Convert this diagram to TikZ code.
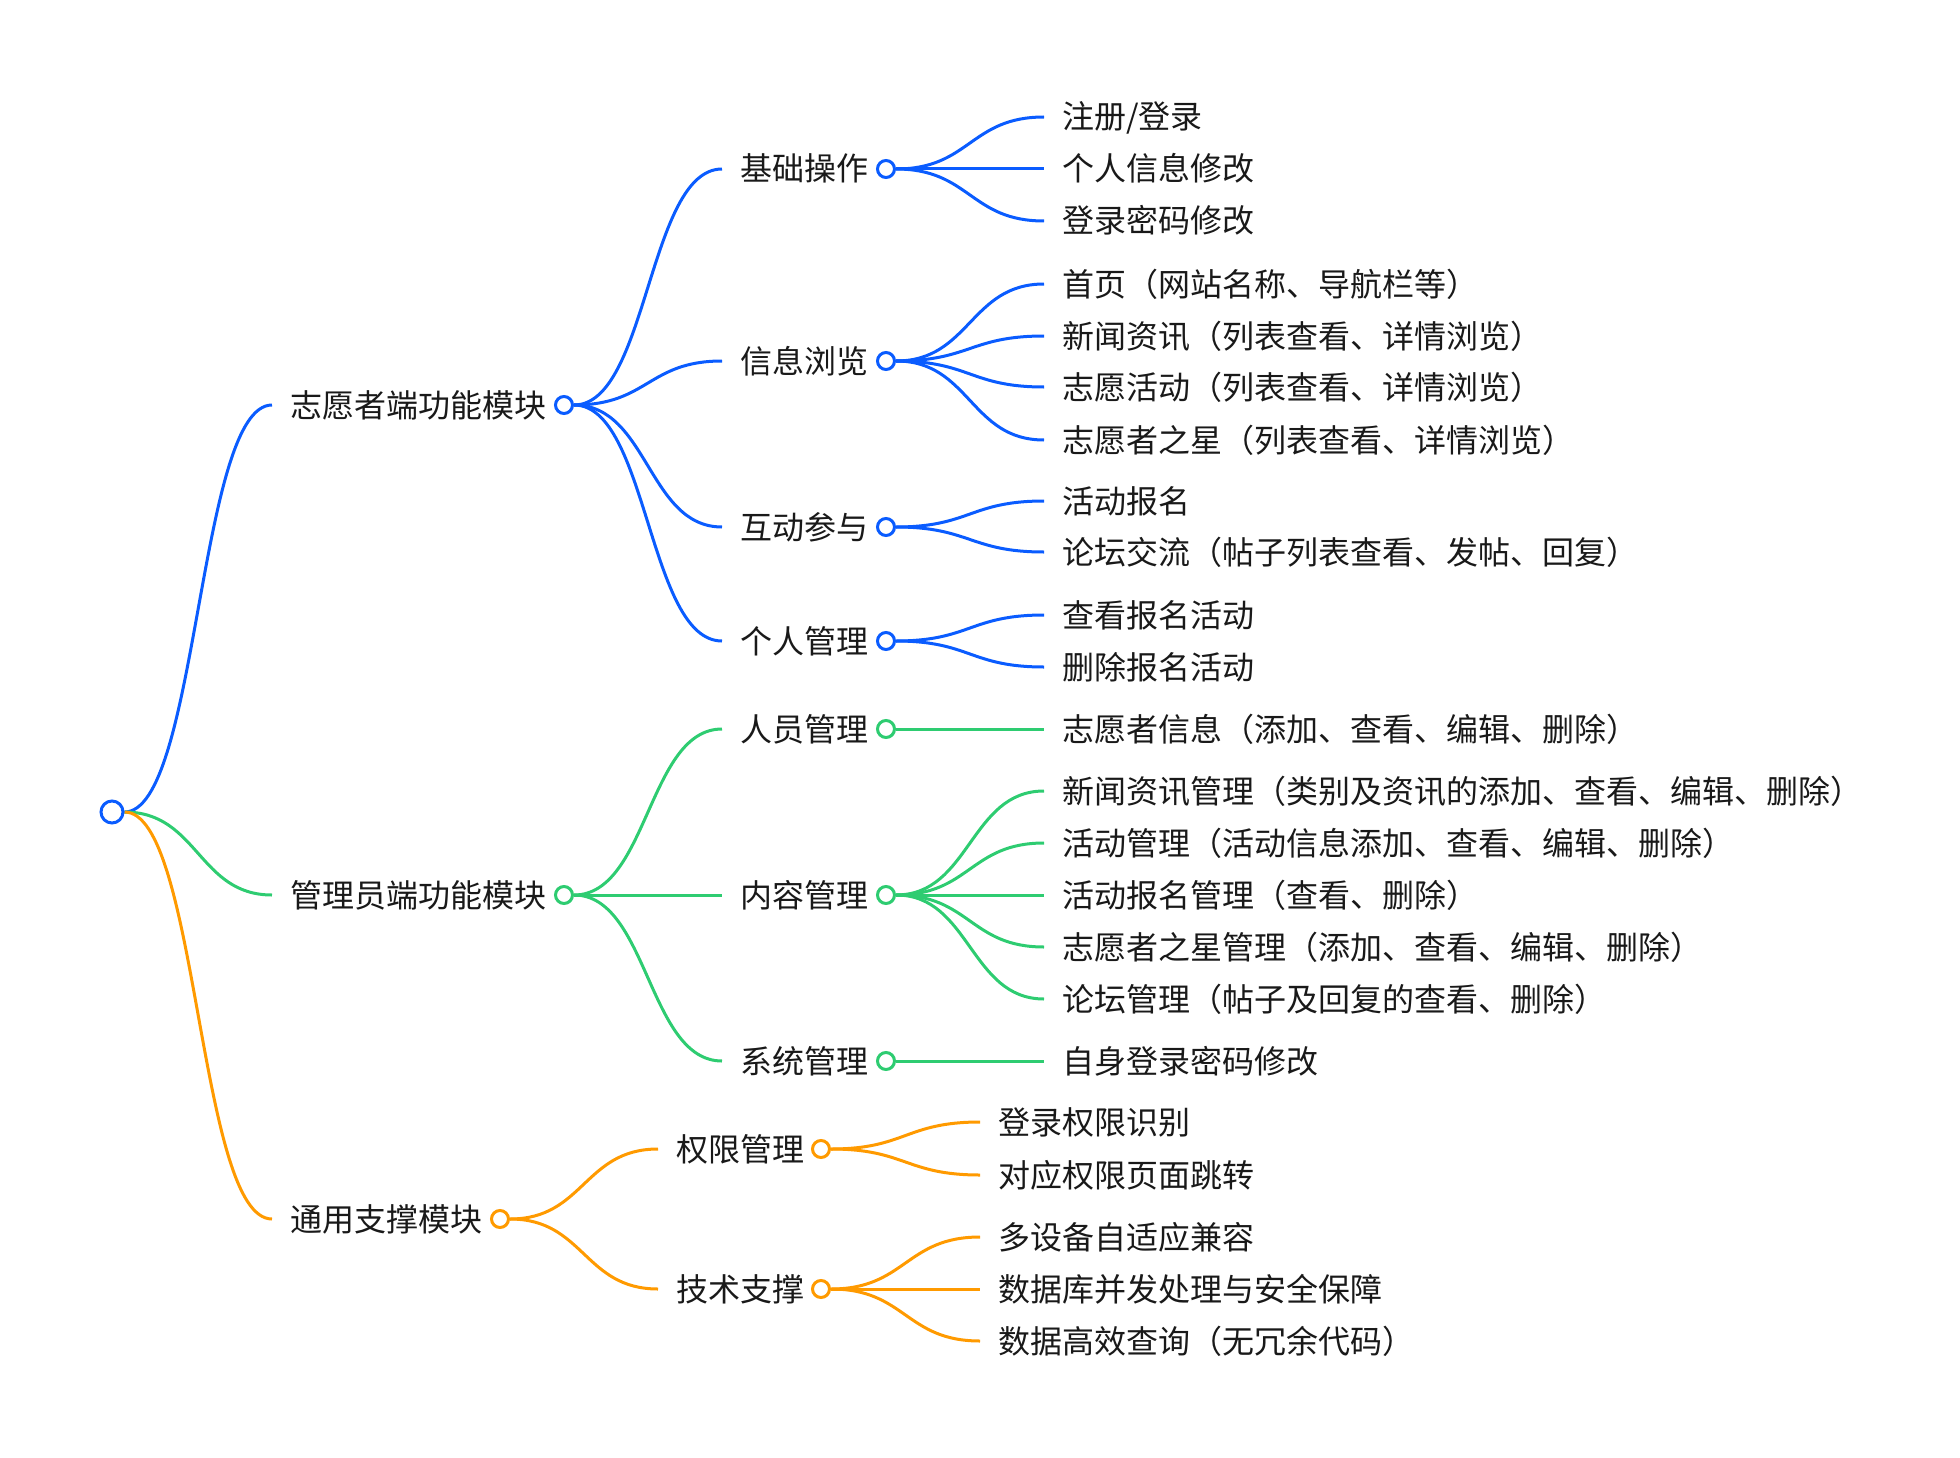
\documentclass[tikz,border=0pt]{standalone}
\usepackage{fontspec}
\setmainfont{Noto Sans CJK SC}
\usetikzlibrary{calc}
\definecolor{cb}{HTML}{0A5CFF}
\definecolor{cg}{HTML}{2ECC71}
\definecolor{co}{HTML}{FF9A00}
\pgfdeclarelayer{bg}\pgfsetlayers{bg,main}
\tikzset{
 lbl/.style={inner sep=0pt, anchor=base west, font=\fontsize{32}{38}\selectfont, text=black!90},
 dot/.style={circle, draw=#1, line width=3pt, fill=white, minimum size=17pt, inner sep=0pt},
 wire/.style={draw=#1, line width=3pt},
}
\newcommand\lnk[3]{\path ($(#2)!0.5!(#3)$) coordinate (mid);
 \draw[wire=#1] (#2) .. controls (mid |- #2) and (mid |- #3) .. (#3);}
\newcommand\txt[4]{\node[lbl] (#1) at (#2,#3+12) {#4}; \coordinate (#1-in) at (#2-18,#3);}
\begin{document}
\begin{tikzpicture}[x=1pt,y=-1pt]
\useasboundingbox (0,0) rectangle (1960,1458);
\begin{scope}[yshift=-1pt]
% root
\node[dot=cb, minimum size=22pt] (root) at (112,811) {};
% level 1
\txt{v}{290}{404}{志愿者端功能模块} \node[dot=cb] (v-c) at (564,404) {};
\txt{a}{290}{894}{管理员端功能模块} \node[dot=cg] (a-c) at (564,894) {};
\txt{g}{290}{1218}{通用支撑模块} \node[dot=co] (g-c) at (500,1218) {};
% level 2 blue
\txt{v1}{740}{168}{基础操作} \node[dot=cb] (v1-c) at (886,168) {};
\txt{v2}{740}{360}{信息浏览} \node[dot=cb] (v2-c) at (886,360) {};
\txt{v3}{740}{526}{互动参与} \node[dot=cb] (v3-c) at (886,526) {};
\txt{v4}{740}{640}{个人管理} \node[dot=cb] (v4-c) at (886,640) {};
% level 2 green
\txt{a1}{740}{728}{人员管理} \node[dot=cg] (a1-c) at (886,728) {};
\txt{a2}{740}{894}{内容管理} \node[dot=cg] (a2-c) at (886,894) {};
\txt{a3}{740}{1060}{系统管理} \node[dot=cg] (a3-c) at (886,1060) {};
% level 2 orange
\txt{g1}{676}{1148}{权限管理} \node[dot=co] (g1-c) at (821,1148) {};
\txt{g2}{676}{1288}{技术支撑} \node[dot=co] (g2-c) at (821,1288) {};
% leaves
\txt{v11}{1062}{116}{注册/登录}
\txt{v12}{1062}{168}{个人信息修改}
\txt{v13}{1062}{220}{登录密码修改}
\txt{v21}{1062}{283}{首页（网站名称、导航栏等）}
\txt{v22}{1062}{335}{新闻资讯（列表查看、详情浏览）}
\txt{v23}{1062}{386}{志愿活动（列表查看、详情浏览）}
\txt{v24}{1062}{439}{志愿者之星（列表查看、详情浏览）}
\txt{v31}{1062}{500}{活动报名}
\txt{v32}{1062}{551}{论坛交流（帖子列表查看、发帖、回复）}
\txt{v41}{1062}{614}{查看报名活动}
\txt{v42}{1062}{666}{删除报名活动}
\txt{a11}{1062}{728}{志愿者信息（添加、查看、编辑、删除）}
\txt{a21}{1062}{790}{新闻资讯管理（类别及资讯的添加、查看、编辑、删除）}
\txt{a22}{1062}{842}{活动管理（活动信息添加、查看、编辑、删除）}
\txt{a23}{1062}{894}{活动报名管理（查看、删除）}
\txt{a24}{1062}{946}{志愿者之星管理（添加、查看、编辑、删除）}
\txt{a25}{1062}{998}{论坛管理（帖子及回复的查看、删除）}
\txt{a31}{1062}{1060}{自身登录密码修改}
\txt{g11}{998}{1121}{登录权限识别}
\txt{g12}{998}{1174}{对应权限页面跳转}
\txt{g21}{998}{1236}{多设备自适应兼容}
\txt{g22}{998}{1288}{数据库并发处理与安全保障}
\txt{g23}{998}{1340}{数据高效查询（无冗余代码）}
\begin{pgfonlayer}{bg}
\lnk{cb}{root.east}{v-in}
\lnk{cg}{root.east}{a-in}
\lnk{co}{root.east}{g-in}
\lnk{cb}{v-c.east}{v1-in}
\lnk{cb}{v-c.east}{v2-in}
\lnk{cb}{v-c.east}{v3-in}
\lnk{cb}{v-c.east}{v4-in}
\lnk{cg}{a-c.east}{a1-in}
\lnk{cg}{a-c.east}{a2-in}
\lnk{cg}{a-c.east}{a3-in}
\lnk{co}{g-c.east}{g1-in}
\lnk{co}{g-c.east}{g2-in}
\lnk{cb}{v1-c.east}{v11-in}
\lnk{cb}{v1-c.east}{v12-in}
\lnk{cb}{v1-c.east}{v13-in}
\lnk{cb}{v2-c.east}{v21-in}
\lnk{cb}{v2-c.east}{v22-in}
\lnk{cb}{v2-c.east}{v23-in}
\lnk{cb}{v2-c.east}{v24-in}
\lnk{cb}{v3-c.east}{v31-in}
\lnk{cb}{v3-c.east}{v32-in}
\lnk{cb}{v4-c.east}{v41-in}
\lnk{cb}{v4-c.east}{v42-in}
\lnk{cg}{a1-c.east}{a11-in}
\lnk{cg}{a2-c.east}{a21-in}
\lnk{cg}{a2-c.east}{a22-in}
\lnk{cg}{a2-c.east}{a23-in}
\lnk{cg}{a2-c.east}{a24-in}
\lnk{cg}{a2-c.east}{a25-in}
\lnk{cg}{a3-c.east}{a31-in}
\lnk{co}{g1-c.east}{g11-in}
\lnk{co}{g1-c.east}{g12-in}
\lnk{co}{g2-c.east}{g21-in}
\lnk{co}{g2-c.east}{g22-in}
\lnk{co}{g2-c.east}{g23-in}
\end{pgfonlayer}
\end{scope}
\end{tikzpicture}
\end{document}
